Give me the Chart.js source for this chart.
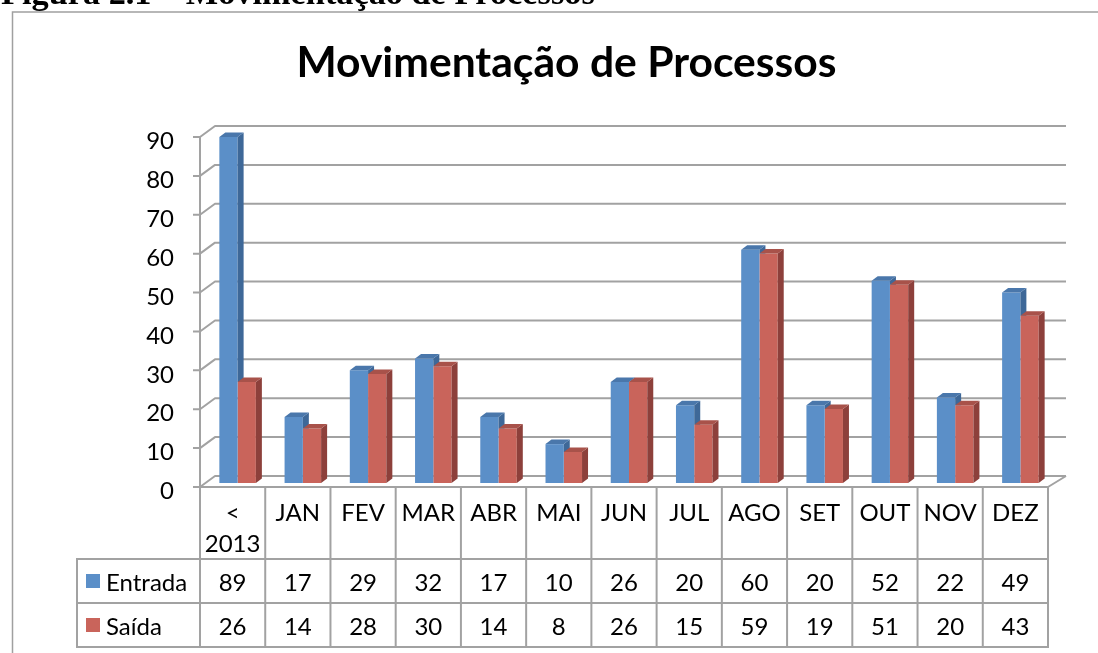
<!DOCTYPE html>
<html>
<head>
<meta charset="utf-8">
<script src="https://cdn.jsdelivr.net/npm/chart.js"></script>
<style>
html,body{margin:0;padding:0;background:#fff;overflow:hidden;}
#wrap{position:relative;width:1098px;height:653px;background:#fff;}
canvas{position:absolute;left:0;top:0;}
</style>
</head>
<body>
<div id="wrap"><canvas id="c" width="1098" height="653"></canvas></div>
<script>
// ---- data ----
const chartTitle = 'Movimentação de Processos';
const captionText = 'Figura 2.1 – Movimentação de Processos';
const categories = [['<', '2013'], 'JAN', 'FEV', 'MAR', 'ABR', 'MAI', 'JUN', 'JUL', 'AGO', 'SET', 'OUT', 'NOV', 'DEZ'];
const seriesNames = ['Entrada', 'Saída'];
const entrada = [89, 17, 29, 32, 17, 10, 26, 20, 60, 20, 52, 22, 49];
const saida = [26, 14, 28, 30, 14, 8, 26, 15, 59, 19, 51, 20, 43];
const yTicks = [0, 10, 20, 30, 40, 50, 60, 70, 80, 90];

// ---- style ----
const FONT = 'Lato';
const TXT = 24;
const frontColors = ['#5b8fc8', '#c9645b'];
const sideColors = ['#3e6898', '#8d403b'];
const topColors = ['#4a77ab', '#a8524a'];
const gridColor = '#a2a2a2';

function fitSize(text, weight, family, width) {
  const cv = document.createElement('canvas').getContext('2d');
  cv.font = weight + ' 100px ' + family;
  return 100 * width / cv.measureText(text).width;
}

let capSize = 28, titleSize = 38;

const threeD = {
  id: 'threeD',
  beforeDatasetsDraw(chart) {
    const ctx = chart.ctx, ys = chart.scales.y, ca = chart.chartArea;
    const fx = ca.left - 5, bxl = ca.left + 10, bxr = ca.right + 13;
    ctx.save();
    ctx.strokeStyle = gridColor;
    ctx.lineWidth = 2;
    ctx.lineJoin = 'round';
    yTicks.forEach(v => {
      const yp = ys.getPixelForValue(v);
      const yf = yp + 4, yb = yp - 7;
      ctx.beginPath();
      ctx.moveTo(fx - 7, yf);
      ctx.lineTo(fx, yf);
      ctx.lineTo(bxl, yb);
      ctx.lineTo(bxr, yb);
      ctx.stroke();
    });
    const y0 = ys.getPixelForValue(0) + 4, yTop = ys.getPixelForValue(yTicks[yTicks.length - 1]) + 4;
    ctx.beginPath();
    ctx.moveTo(fx, yTop);
    ctx.lineTo(fx, y0);
    ctx.lineTo(ca.right - 5, y0);
    ctx.lineTo(bxr, y0 - 11);
    ctx.stroke();
    ctx.restore();
  },
  afterDatasetsDraw(chart) {
    const ctx = chart.ctx;
    const m0 = chart.getDatasetMeta(0).data, m1 = chart.getDatasetMeta(1).data;
    const DX = 6, DY = 4.5;
    const faces = (el, i, clipTop) => {
      const l = el.x - el.width / 2, r = el.x + el.width / 2, t = el.y, b = el.base;
      ctx.save();
      if (clipTop !== undefined) {
        ctx.beginPath();
        ctx.rect(0, 0, chart.width, clipTop);
        ctx.clip();
      }
      ctx.fillStyle = sideColors[i];
      ctx.beginPath();
      ctx.moveTo(r, t); ctx.lineTo(r + DX, t - DY); ctx.lineTo(r + DX, b - DY); ctx.lineTo(r, b);
      ctx.closePath(); ctx.fill();
      ctx.restore();
      ctx.fillStyle = topColors[i];
      ctx.beginPath();
      ctx.moveTo(l, t); ctx.lineTo(l + DX, t - DY); ctx.lineTo(r + DX, t - DY); ctx.lineTo(r, t);
      ctx.closePath(); ctx.fill();
    };
    ctx.save();
    m0.forEach((el, k) => {
      faces(el, 0, m1[k].y);
      faces(m1[k], 1);
    });
    ctx.restore();
  },
  afterDraw(chart) {
    const ctx = chart.ctx, ys = chart.scales.y, xs = chart.scales.x, ca = chart.chartArea;
    const n = categories.length;
    const cw = (ca.right - ca.left) / n;
    const fx = ca.left - 5;
    const y0 = ys.getPixelForValue(0) + 4;
    const rowTop = 559, rowH = 44, legLeft = 77;
    ctx.save();
    ctx.strokeStyle = gridColor;
    ctx.lineWidth = 2;
    for (let k = 0; k <= n; k++) {
      const x = fx + k * cw;
      ctx.beginPath(); ctx.moveTo(x, y0); ctx.lineTo(x, rowTop + 2 * rowH); ctx.stroke();
    }
    ctx.beginPath(); ctx.moveTo(legLeft, rowTop); ctx.lineTo(legLeft, rowTop + 2 * rowH); ctx.stroke();
    for (let r = 0; r <= 2; r++) {
      ctx.beginPath(); ctx.moveTo(legLeft - 1, rowTop + r * rowH); ctx.lineTo(fx + n * cw + 1, rowTop + r * rowH); ctx.stroke();
    }
    ctx.fillStyle = '#000';
    ctx.font = TXT + 'px ' + FONT;
    ctx.textAlign = 'center';
    ctx.textBaseline = 'middle';
    [entrada, saida].forEach((arr, r) => {
      arr.forEach((v, k) => {
        const x = xs.getPixelForValue(k) - 5;
        ctx.fillText(String(v), x, rowTop + r * rowH + 24.5);
      });
    });
    ctx.textAlign = 'left';
    seriesNames.forEach((s, r) => {
      ctx.fillStyle = frontColors[r];
      ctx.fillRect(86, rowTop + r * rowH + 15, 14, 14);
      ctx.fillStyle = '#000';
      ctx.fillText(s, 106, rowTop + r * rowH + 24.5);
    });
    // chart title
    ctx.textAlign = 'center';
    ctx.font = 'bold ' + titleSize.toFixed(2) + 'px ' + FONT;
    ctx.fillText(chartTitle, 566.5, 63);
    // outer frame
    ctx.strokeStyle = '#a0a0a0';
    ctx.lineWidth = 1.5;
    ctx.beginPath(); ctx.moveTo(12.5, 653); ctx.lineTo(12.5, 12); ctx.lineTo(1098, 12); ctx.stroke();
    // caption (cut off at top)
    ctx.textAlign = 'left';
    ctx.font = 'bold ' + capSize.toFixed(2) + 'px "Liberation Serif"';
    ctx.textBaseline = 'alphabetic';
    ctx.fillText(captionText, 1, 3.5);
    ctx.restore();
  }
};

function build() {
  titleSize = fitSize(chartTitle, 'bold', FONT, 540);
  capSize = fitSize(captionText, 'bold', '"Liberation Serif"', 594);
  new Chart(document.getElementById('c'), {
    type: 'bar',
    data: {
      labels: categories,
      datasets: [
        { label: seriesNames[0], data: entrada, backgroundColor: frontColors[0], borderWidth: 0 },
        { label: seriesNames[1], data: saida, backgroundColor: frontColors[1], borderWidth: 0 }
      ]
    },
    options: {
      responsive: false,
      animation: false,
      devicePixelRatio: 1,
      layout: { padding: { left: 0, right: 45, top: 133, bottom: 0 } },
      datasets: { bar: { categoryPercentage: 0.56, barPercentage: 1.0 } },
      plugins: {
        legend: { display: false },
        tooltip: { enabled: false },
        title: { display: false }
      },
      scales: {
        x: {
          grid: { display: false, drawTicks: false },
          border: { display: false },
          ticks: {
            color: '#000',
            font: { family: FONT, size: TXT, lineHeight: 1.29 },
            padding: 15,
            labelOffset: -5,
            maxRotation: 0,
            minRotation: 0,
            autoSkip: false
          },
          afterFit(s) { s.height = 170; }
        },
        y: {
          min: 0,
          max: 90,
          grid: { display: false, drawTicks: false },
          border: { display: false },
          ticks: {
            stepSize: 10,
            color: '#000',
            font: { family: FONT, size: TXT },
            padding: 31,
            labelOffset: 8.5
          },
          afterFit(s) { s.width = 205; }
        }
      }
    },
    plugins: [threeD]
  });
}

Promise.all([
  document.fonts.load('bold 40px Lato'),
  document.fonts.load('24px Lato'),
  document.fonts.load('bold 28px "Liberation Serif"')
]).then(build, build);
</script>
</body>
</html>
